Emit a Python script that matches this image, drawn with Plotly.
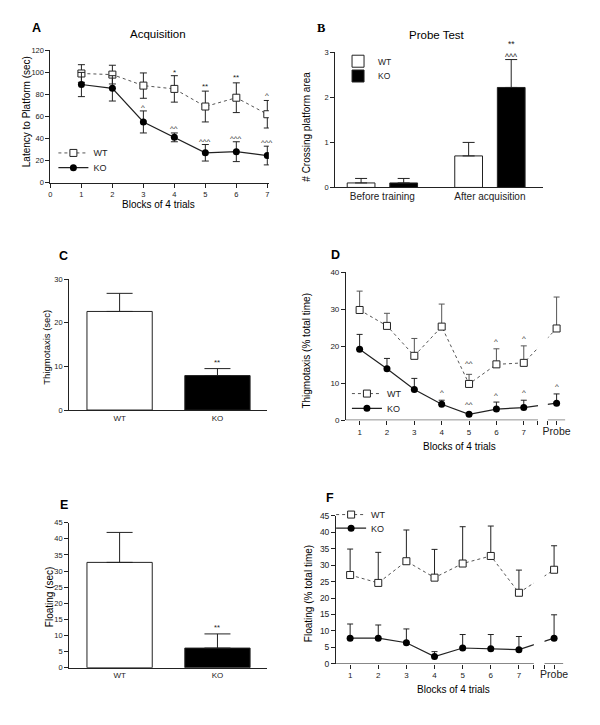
import plotly.graph_objects as go

W, H = 600, 725
FONT = "Liberation Sans, Arial, Helvetica, sans-serif"
INK = "#222222"

# ---------------- data ----------------
# A: Acquisition (latency, sec), mean +/- SEM
acq_blocks = [1, 2, 3, 4, 5, 6, 7]
acq_wt = [99, 98, 88, 85, 69, 77, 62]
acq_wt_err = [8, 8.5, 11.5, 12, 14, 13.5, 12.5]
acq_ko = [89, 85.5, 55, 41, 27, 28, 24.5]
acq_ko_err = [11, 11.5, 10, 4, 7.5, 9, 8.5]
acq_sig = [(4, 102, "*"), (5, 89, "**"), (6, 97, "**"), (7, 80.5, "^"),
           (3, 70, "^"), (4, 51, "^^"), (5, 39, "^^^"), (6, 42, "^^^"), (7, 38, "^^^")]

# B: Probe test (# crossings)
probe_groups = ["Before training", "After acquisition"]
probe_wt = [0.1, 0.7]
probe_wt_err = [0.1, 0.3]
probe_ko = [0.1, 2.22]
probe_ko_err = [0.1, 0.62]
probe_sig = [(3.24, "**"), (2.95, "^^^")]

# C: Thigmotaxis (sec)
genotypes = ["WT", "KO"]
thig_sec = [22.6, 7.9]
thig_sec_err = [4.15, 1.6]
thig_sec_sig = 11.45

# D: Thigmotaxis (% total time)
block_labels = ["1", "2", "3", "4", "5", "6", "7", "Probe"]
thig_wt = [29.8, 25.5, 17.4, 25.3, 9.8, 15.1, 15.5, 24.8]
thig_wt_err = [5.1, 3.4, 4.7, 6.1, 2.6, 4.2, 4.6, 8.5]
thig_ko = [19.2, 13.9, 8.3, 4.3, 1.6, 3.0, 3.4, 4.6]
thig_ko_err = [4.0, 2.8, 3.0, 1.1, 0.0, 1.9, 2.0, 2.5]
thig_wt_sig = [("5", 15.8, "^^"), ("6", 21.8, "^"), ("7", 22.7, "^")]
thig_ko_sig = [("4", 8.0, "^"), ("5", 4.8, "^^"), ("6", 7.1, "^"), ("7", 8.0, "^"), ("Probe", 9.6, "^")]

# E: Floating (sec)
float_sec = [32.7, 6.1]
float_sec_err = [9.3, 4.4]
float_sec_sig = 13.1

# F: Floating (% total time)
float_wt = [27.0, 24.6, 31.2, 26.2, 30.5, 32.8, 21.6, 28.6]
float_wt_err = [7.9, 9.3, 9.5, 8.6, 11.2, 9.1, 6.9, 7.3]
float_ko = [7.8, 7.8, 6.4, 2.2, 4.8, 4.6, 4.3, 7.8]
float_ko_err = [4.3, 4.0, 4.2, 1.5, 4.1, 4.3, 4.0, 7.1]

# ---------------- layout helpers ----------------
def px(x):
    return x / W

def py(y):
    return 1 - y / H

def dom_x(a, b):
    return [px(a), px(b)]

def dom_y(top, bottom):
    return [py(bottom), py(top)]

# block axis positions (layout): blocks 1..7 then a broken axis with Probe
def block_pos(labels, probe_x):
    return [int(l) if l != "Probe" else probe_x for l in labels]

PROBE_D, BREAK_D, END_D = 8.2, (7.52, 7.88), 8.52
PROBE_F, BREAK_F, END_F = 8.25, (7.53, 7.91), 8.58
xD = block_pos(block_labels, PROBE_D)
xF = block_pos(block_labels, PROBE_F)
posD = dict(zip(block_labels, xD))

wt_line = dict(color="#555555", width=1, dash="dot")
ko_line = dict(color=INK, width=1.2)
wt_marker = dict(symbol="square", size=7, color="white", line=dict(color=INK, width=1))
ko_marker = dict(symbol="circle", size=7, color="black", line=dict(color="black", width=0))

def err(arr, w, sym=True, color=INK):
    d = dict(type="data", array=arr, color=color, thickness=1, width=w, visible=True)
    if not sym:
        d["symmetric"] = False
        d["arrayminus"] = [0] * len(arr)
    return d

fig = go.Figure()

# A
fig.add_trace(go.Scatter(x=acq_blocks, y=acq_wt, name="WT", mode="lines+markers",
                         line=wt_line, marker=wt_marker, error_y=err(acq_wt_err, 3.5),
                         xaxis="x", yaxis="y", legend="legend"))
fig.add_trace(go.Scatter(x=acq_blocks, y=acq_ko, name="KO", mode="lines+markers",
                         line=ko_line, marker=ko_marker, error_y=err(acq_ko_err, 3.5),
                         xaxis="x", yaxis="y", legend="legend2"))

# B
BW_B = 0.258
OFF_WT_B, OFF_KO_B = -0.327, 0.069
fig.add_trace(go.Bar(x=probe_groups, y=probe_wt, name="WT", width=BW_B, offset=OFF_WT_B,
                     marker=dict(color="white", line=dict(color=INK, width=1)),
                     error_y=err(probe_wt_err, 6, sym=False), xaxis="x2", yaxis="y2", legend="legend3"))
fig.add_trace(go.Bar(x=probe_groups, y=probe_ko, name="KO", width=BW_B, offset=OFF_KO_B,
                     marker=dict(color="black", line=dict(color=INK, width=1)),
                     error_y=err(probe_ko_err, 6, sym=False), xaxis="x2", yaxis="y2", legend="legend4"))

# C
BW_C = 0.667
fig.add_trace(go.Bar(x=genotypes, y=thig_sec, width=BW_C, showlegend=False,
                     marker=dict(color=["white", "black"], line=dict(color=INK, width=1)),
                     error_y=err(thig_sec_err, 13, sym=False), xaxis="x3", yaxis="y3"))

# D
fig.add_trace(go.Scatter(x=xD, y=thig_wt, name="WT", mode="lines+markers",
                         line=wt_line, marker=wt_marker, error_y=err(thig_wt_err, 3, sym=False, color="#555555"),
                         xaxis="x4", yaxis="y4", legend="legend5"))
fig.add_trace(go.Scatter(x=xD, y=thig_ko, name="KO", mode="lines+markers",
                         line=ko_line, marker=ko_marker, error_y=err(thig_ko_err, 3, sym=False),
                         xaxis="x4", yaxis="y4", legend="legend6"))

# E
fig.add_trace(go.Bar(x=genotypes, y=float_sec, width=BW_C, showlegend=False,
                     marker=dict(color=["white", "black"], line=dict(color=INK, width=1)),
                     error_y=err(float_sec_err, 13, sym=False), xaxis="x5", yaxis="y5"))

# F
fig.add_trace(go.Scatter(x=xF, y=float_wt, name="WT", mode="lines+markers",
                         line=wt_line, marker=wt_marker, error_y=err(float_wt_err, 3, sym=False),
                         xaxis="x6", yaxis="y6", legend="legend7"))
fig.add_trace(go.Scatter(x=xF, y=float_ko, name="KO", mode="lines+markers",
                         line=ko_line, marker=ko_marker, error_y=err(float_ko_err, 3, sym=False),
                         xaxis="x6", yaxis="y6", legend="legend8"))

# ---------------- axes ----------------
def ax(**kw):
    base = dict(showline=True, linecolor=INK, linewidth=1, ticks="outside", ticklen=4,
                tickcolor=INK, tickwidth=1, showgrid=False, zeroline=False,
                tickfont=dict(size=7.5, color=INK, family=FONT), fixedrange=True)
    base.update(kw)
    return base

probe_tick = "<span style='font-size:10.5px'>Probe</span>"

fig.update_layout(
    xaxis=ax(domain=dom_x(49, 270), anchor="y", range=[0, 7.05], tickvals=list(range(0, 8))),
    yaxis=ax(domain=dom_y(46, 180), anchor="x", range=[0, 120], dtick=20),
    xaxis2=ax(domain=dom_x(337, 547), anchor="y2", type="category", range=[-0.44, 1.49],
              ticks="", tickfont=dict(size=10, color=INK, family=FONT)),
    yaxis2=ax(domain=dom_y(48, 185), anchor="x2", range=[0, 3], dtick=1),
    xaxis3=ax(domain=dom_x(68, 268), anchor="y3", type="category", range=[-0.515, 1.505],
              ticks="", tickfont=dict(size=8, color=INK, family=FONT)),
    yaxis3=ax(domain=dom_y(278, 410.7), anchor="x3", range=[0, 30], dtick=10),
    xaxis4=ax(domain=dom_x(348, 570), anchor="y4", range=[0.5, END_D], showline=False,
              tickvals=list(range(1, 8)) + [BREAK_D[0], BREAK_D[1], PROBE_D],
              ticktext=block_labels[:7] + ["", "", probe_tick],
              tickfont=dict(size=8, color=INK, family=FONT)),
    yaxis4=ax(domain=dom_y(271, 421), anchor="x4", range=[0, 40], dtick=10,
              tickfont=dict(size=8, color=INK, family=FONT)),
    xaxis5=ax(domain=dom_x(68, 268), anchor="y5", type="category", range=[-0.515, 1.505],
              ticks="", tickfont=dict(size=8, color=INK, family=FONT)),
    yaxis5=ax(domain=dom_y(525, 672), anchor="x5", range=[0, 45], dtick=5),
    xaxis6=ax(domain=dom_x(338, 568), anchor="y6", range=[0.5, END_F], showline=False,
              tickvals=list(range(1, 8)) + [BREAK_F[0], BREAK_F[1], PROBE_F],
              ticktext=block_labels[:7] + ["", "", probe_tick],
              tickfont=dict(size=8, color=INK, family=FONT)),
    yaxis6=ax(domain=dom_y(518, 668), anchor="x6", range=[0, 45], dtick=5,
              tickfont=dict(size=8.5, color=INK, family=FONT)),
)

# broken axes for D and F
shapes = []
for xa, ya, brk, end in [("x4", "y4", BREAK_D, END_D), ("x6", "y6", BREAK_F, END_F)]:
    shapes.append(dict(type="rect", xref=xa, yref=ya + " domain", x0=brk[0], x1=brk[1], y0=0.004, y1=1,
                       fillcolor="white", line=dict(width=0), layer="above"))
    shapes.append(dict(type="line", xref=xa, yref=ya, x0=0.5, x1=brk[0], y0=0, y1=0,
                       line=dict(color=INK, width=1), layer="above"))
    shapes.append(dict(type="line", xref=xa, yref=ya, x0=brk[1], x1=end, y0=0, y1=0,
                       line=dict(color=INK, width=1), layer="above"))
fig.update_layout(shapes=shapes)

# ---------------- legends (one entry each, placed like the original) ----------------
def leg(x, y, size=9):
    return dict(x=px(x), y=py(y), xanchor="left", yanchor="middle", bgcolor="rgba(0,0,0,0)",
                borderwidth=0, font=dict(size=size, color=INK, family=FONT), tracegroupgap=0,
                itemwidth=30)

fig.update_layout(
    legend=leg(52, 150), legend2=leg(52, 165),
    legend3=leg(340, 57, 8.5), legend4=leg(340, 72, 8.5),
    legend5=leg(349, 394), legend6=leg(349, 409),
    legend7=leg(333, 516.7), legend8=leg(333, 530.5),
)

# ---------------- annotations ----------------
ann = []

def text(x, y, s, size, bold=False, family=FONT, angle=0):
    ann.append(dict(xref="paper", yref="paper", x=px(x), y=py(y), text=("<b>%s</b>" % s) if bold else s,
                    showarrow=False, xanchor="center", yanchor="middle", textangle=angle,
                    font=dict(size=size, color="black", family=family)))

# panel letters
text(35, 23, "A", 12.5, bold=True)
text(323, 23, "B", 12.5, bold=True, family="Liberation Serif, Times New Roman, serif")
text(62, 255, "C", 12.5, bold=True)
text(337, 253, "D", 12.5, bold=True)
text(63, 507, "E", 12.5, bold=True)
text(332, 500, "F", 12.5, bold=True)
# titles
text(158, 29, "Acquisition", 11.5)
text(440, 30, "Probe Test", 11.5)
# axis titles
text(25, 108, "Latency to Platform (sec)", 10, angle=-90)
text(158, 202, "Blocks of 4 trials", 10)
text(308, 123, "# Crossing platform area", 10, angle=-90)
text(45, 347, "Thigmotaxis (sec)", 9.5, angle=-90)
text(308, 350, "Thigmotaxis (% total time)", 10, angle=-90)
text(463, 448, "Blocks of 4 trials", 10)
text(48, 600, "Floating (sec)", 10, angle=-90)
text(310, 597, "Floating (% total time)", 10, angle=-90)
text(457, 694, "Blocks of 4 trials", 10)

def sig(xa, ya, x, y, s, ymax, size=8):
    # placed in axis-domain units so marks above the top of the axis still show
    ann.append(dict(xref=xa, yref=ya + " domain", x=x, y=y / ymax, text=s, showarrow=False, yshift=-2,
                    xanchor="center", yanchor="middle", font=dict(size=size, color=INK, family=FONT)))

for x, y, s in acq_sig:
    sig("x", "y", x, y, s, 120)
ko_center_B = 1 + OFF_KO_B + BW_B / 2
for y, s in probe_sig:
    sig("x2", "y2", ko_center_B, y, s, 3, size=8.5)
sig("x3", "y3", 1, thig_sec_sig, "**", 30)
for lab, y, s in thig_wt_sig + thig_ko_sig:
    sig("x4", "y4", posD[lab], y, s, 40)
sig("x5", "y5", 1, float_sec_sig, "**", 45, size=7.5)

fig.update_layout(
    annotations=ann,
    width=W, height=H, margin=dict(l=0, r=0, t=0, b=0),
    paper_bgcolor="white", plot_bgcolor="white", barmode="overlay",
    font=dict(family=FONT, color=INK),
)

fig.write_html("out.html", config={"displayModeBar": False},
               post_script="document.body.style.margin='0';")
